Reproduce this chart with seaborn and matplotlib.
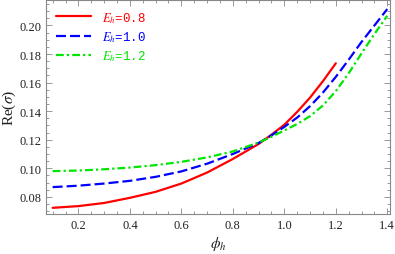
# Re(sigma) vs phi_h for three values of E_h

import numpy as np
import pandas as pd
import matplotlib
matplotlib.use("Agg")
import matplotlib.pyplot as plt
from matplotlib.ticker import MultipleLocator
import seaborn as sns


# ------------------------------------------------------------
# Data
# ------------------------------------------------------------

phi_08 = [0.1, 0.2, 0.3, 0.4, 0.5, 0.6, 0.7, 0.8, 0.9, 0.95, 1.0, 1.05,
          1.1, 1.15, 1.2]
re_08 = [0.0723, 0.0735, 0.0757, 0.0793, 0.0835, 0.0893, 0.0970, 0.1065,
         0.1170, 0.1235, 0.1305, 0.1395, 0.1495, 0.1610, 0.1735]

phi_10 = [0.1, 0.2, 0.3, 0.4, 0.5, 0.6, 0.7, 0.8, 0.9, 0.95, 1.0, 1.05,
          1.1, 1.15, 1.2, 1.25, 1.3, 1.35, 1.4]
re_10 = [0.0868, 0.0878, 0.0893, 0.0912, 0.0940, 0.0978, 0.1032, 0.1100,
         0.1177, 0.1230, 0.1290, 0.1355, 0.1435, 0.1530, 0.1640, 0.1760,
         0.1885, 0.2000, 0.2115]

phi_12 = [0.1, 0.2, 0.3, 0.4, 0.5, 0.6, 0.7, 0.8, 0.9, 0.95, 1.0, 1.05,
          1.1, 1.15, 1.2, 1.25, 1.3, 1.35, 1.4]
re_12 = [0.0980, 0.0984, 0.0993, 0.1005, 0.1022, 0.1045, 0.1076, 0.1118,
         0.1180, 0.1220, 0.1265, 0.1310, 0.1365, 0.1440, 0.1540, 0.1665,
         0.1805, 0.1940, 0.2068]

labels = ["0.8", "1.0", "1.2"]
colors = ["#ff0000", "#0000ff", "#00e600"]

df = pd.concat([
    pd.DataFrame({"phi": phi_08, "re": re_08, "E": labels[0]}),
    pd.DataFrame({"phi": phi_10, "re": re_10, "E": labels[1]}),
    pd.DataFrame({"phi": phi_12, "re": re_12, "E": labels[2]}),
])


# ------------------------------------------------------------
# Style
# ------------------------------------------------------------

sns.set_style("ticks")
plt.rcParams["font.family"] = ["Liberation Serif", "DejaVu Serif"]
plt.rcParams["mathtext.fontset"] = "stix"
plt.rcParams["axes.edgecolor"] = "#888888"
plt.rcParams["xtick.color"] = "#888888"
plt.rcParams["ytick.color"] = "#888888"
plt.rcParams["xtick.labelcolor"] = "#222222"
plt.rcParams["ytick.labelcolor"] = "#222222"

fig = plt.figure(figsize=(3.95, 2.55), dpi=100)
ax = fig.add_axes([0.117, 0.157, 0.870, 0.840])

styles = [(None, None), (4.5, 1.8), (3.5, 1.4, 1.0, 1.4)]

for lab, col, dash in zip(labels, colors, styles):
    sub = df[df["E"] == lab]
    sns.lineplot(data=sub, x="phi", y="re", color=col, lw=1.6,
                 ax=ax, label="$E_h$=" + lab)
    if dash[0] is not None:
        ax.lines[-1].set_dashes(dash)

ax.set_xlim(0.075, 1.41)
ax.set_ylim(0.068, 0.218)

ax.xaxis.set_major_locator(MultipleLocator(0.2))
ax.xaxis.set_minor_locator(MultipleLocator(0.05))
ax.yaxis.set_major_locator(MultipleLocator(0.02))
ax.yaxis.set_minor_locator(MultipleLocator(0.005))
ax.xaxis.set_major_formatter(plt.FuncFormatter(lambda v, p: f"{v:.1f}"))
ax.yaxis.set_major_formatter(plt.FuncFormatter(lambda v, p: f"{v:.2f}"))

ax.tick_params(which="both", direction="in", top=True, right=True,
               labelsize=9, width=0.6)
ax.tick_params(which="major", length=4)
ax.tick_params(which="minor", length=2)
for s in ax.spines.values():
    s.set_linewidth(0.8)

ax.set_xlabel(r"$\phi_h$", fontsize=11, color="#222222", labelpad=2)
ax.set_ylabel(r"Re($\sigma$)", fontsize=11, color="#222222", labelpad=1)

leg = ax.legend(loc="upper left", frameon=False,
                handlelength=2.8, handletextpad=0.9, labelspacing=0.35,
                borderaxespad=0.4,
                prop={"family": ["Liberation Mono", "DejaVu Sans Mono"],
                      "size": 9})
for txt, col in zip(leg.get_texts(), colors):
    txt.set_color(col)

fig.savefig("out.png", dpi=100)
